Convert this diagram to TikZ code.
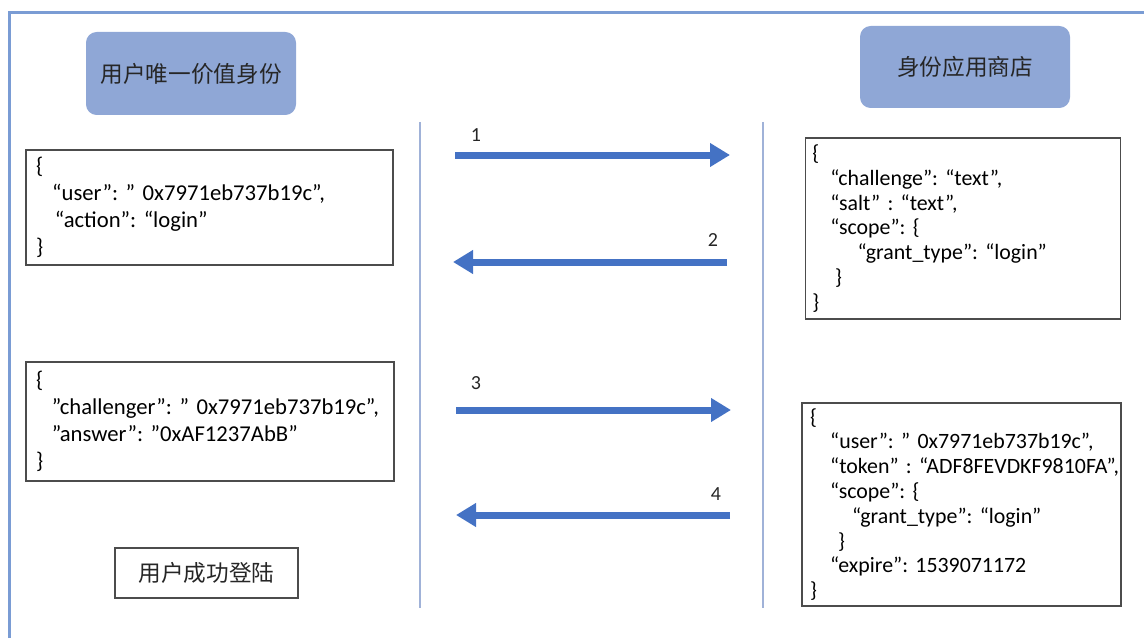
\documentclass[tikz,border=0pt]{standalone}
\usepackage{fontspec}
\setmainfont{Carlito}
\newfontfamily\cjk{Noto Sans CJK SC}
\usetikzlibrary{arrows.meta}

\begin{document}
\begin{tikzpicture}[x=0.75pt, y=-0.75pt,
    header/.style = {rounded corners=8pt, fill=head-blue, text=black!85, minimum width=157.5pt, font=\cjk\fontsize{17}{20}\selectfont},
    jsonbox/.style = {draw=black!70, line width=1.1pt, align=left, inner ysep=0pt,
        execute at begin node={\frenchspacing\hyphenpenalty=10000\exhyphenpenalty=10000}},
    bigjson/.style = {jsonbox, font=\fontsize{17}{20.25}\selectfont},
    smalljson/.style = {jsonbox, font=\fontsize{16.4}{18.6}\selectfont},
    msg/.style = {draw=arrow-blue, line width=5.25pt, -{Triangle[length=15pt, width=17pt]}},
    num/.style = {font=\fontsize{15}{17}\selectfont, text=black!85}]

    \definecolor{frame-blue}{RGB}{122,156,212}
    \definecolor{line-blue}{RGB}{160,178,216}
    \definecolor{head-blue}{RGB}{143,167,214}
    \definecolor{arrow-blue}{RGB}{68,114,196}

    \useasboundingbox (0,0) rectangle (1144,638);

    % outer frame, only top and left edge visible
    \draw[frame-blue, line width=2.25pt] (9,638) -- (9,13) -- (1144,13);

    % the two parties
    \node [header, minimum height=62.25pt] (user) at (191,73.5) {用户唯一价值身份};
    \node [header, minimum height=61.5pt] (store) at (965,67) {身份应用商店};

    % life lines
    \path (420,122) coordinate (ltop) --++ (0,486) coordinate (lbot);
    \path (763,122) coordinate (rtop) --++ (0,486) coordinate (rbot);
    \draw[line-blue, line width=1.5pt] (ltop) -- (lbot);
    \draw[line-blue, line width=1.5pt] (rtop) -- (rbot);

    % messages
    \node [bigjson, inner xsep=7.5pt, text width=260pt, minimum height=86.25pt] (req) at (209.5,207.5)
        {\{\\\hspace*{12pt}“user”:~”~0x7971eb737b19c”,\\\hspace*{14pt}“action”:~“login”\\\}};
    \node [smalljson, inner xsep=5.25pt, text width=226pt, minimum height=135.75pt] (chal) at (963,228.5)
        {\{\\\hspace*{13.5pt}“challenge”:~“text”,\\\hspace*{13.5pt}“salt”~:~“text”,\\\hspace*{13.5pt}“scope”:~\{\\\hspace*{34pt}“grant\_type”:~“login”\\\hspace*{17pt}\}\\\}};
    \node [bigjson, inner xsep=7.5pt, text width=261pt, minimum height=89.25pt] (ans) at (210,421.5)
        {\{\\\hspace*{12pt}”challenger”:~”~0x7971eb737b19c”,\\\hspace*{12pt}”answer”:~”0xAF1237AbB”\\\}};
    \node [smalljson, inner xsep=6pt, text width=227pt, minimum height=152.25pt] (tok) at (961.5,504.5)
        {\{\\\hspace*{15pt}“user”:~”~0x7971eb737b19c”,\\\hspace*{15pt}“token”~:~“ADF8FEVDKF9810FA”,\\\hspace*{15pt}“scope”:~\{\\\hspace*{31.5pt}“grant\_type”:~“login”\\\hspace*{21pt}\}\\\hspace*{15pt}“expire”:~1539071172\\\}};
    \node [draw=black!70, line width=1.1pt, minimum width=137.25pt, minimum height=37.5pt, font=\cjk\fontsize{17}{20}\selectfont, text=black!85] (ok) at (206.5,573) {用户成功登陆};

    % arrows
    \path (455,155) coordinate (m1s) --++ (275,0) coordinate (m1e);
    \path (727,262) coordinate (m2s) --++ (-274,0) coordinate (m2e);
    \path (456,410) coordinate (m3s) --++ (275,0) coordinate (m3e);
    \path (730,515) coordinate (m4s) --++ (-274,0) coordinate (m4e);

    \draw[msg] (m1s) -- (m1e);
    \draw[msg] (m2s) -- (m2e);
    \draw[msg] (m3s) -- (m3e);
    \draw[msg] (m4s) -- (m4e);

    \node [num] (n1) at (476,135) {1};
    \node [num] (n2) at (713,240) {2};
    \node [num] (n3) at (476,383) {3};
    \node [num] (n4) at (716,494) {4};

\end{tikzpicture}
\end{document}
